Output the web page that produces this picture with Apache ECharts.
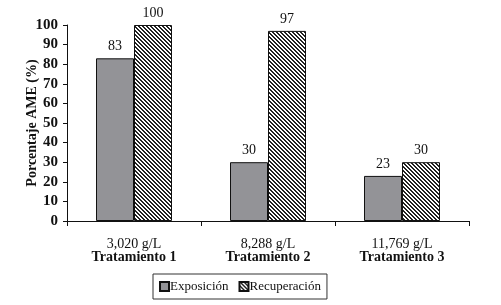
<!DOCTYPE html>
<html>
<head>
<meta charset="utf-8">
<script src="https://cdn.jsdelivr.net/npm/echarts@6/dist/echarts.min.js"></script>
<style>
html, body { margin: 0; padding: 0; background: #fff; }
#chart { width: 501px; height: 305px; }
</style>
</head>
<body>
<div id="chart"></div>
<script>
// datos
const concentraciones = ['3,020 g/L', '8,288 g/L', '11,769 g/L'];
const tratamientos = ['Tratamiento 1', 'Tratamiento 2', 'Tratamiento 3'];
const exposicion = [83, 30, 23];
const recuperacion = [100, 97, 30];

// patron rayado (diagonales)
const makeHatch = function () {
    const c = document.createElement('canvas');
    c.width = 4; c.height = 4;
    const ctx = c.getContext('2d');
    ctx.fillStyle = '#fff';
    ctx.fillRect(0, 0, 4, 4);
    ctx.fillStyle = '#222';
    for (let x = 0; x < 4; x++) {
        for (let y = 0; y < 4; y++) {
            const d = ((x - y) % 4 + 4) % 4;
            if (d === 0 || d === 1) ctx.fillRect(x, y, 1, 1);
        }
    }
    return c;
};
const hatch = { image: makeHatch(), repeat: 'repeat' };

const serif = '"Liberation Serif", "Times New Roman", serif';

const myChart = echarts.init(document.getElementById('chart'));
const option = {
    animation: false,
    textStyle: { fontFamily: serif, color: '#111' },
    grid: { left: 67, right: 32, top: 25, bottom: 84 },
    legend: {
        left: 153,
        top: 274,
        width: 176,
        height: 25,
        padding: [6, 6, 6, 6],
        borderColor: '#333',
        borderWidth: 1,
        itemWidth: 9,
        itemHeight: 9,
        itemGap: 10,
        icon: 'rect',
        textStyle: { fontFamily: serif, fontSize: 13, color: '#111', padding: [0, 0, 0, -4] },
        data: ['Exposición', 'Recuperación']
    },
    xAxis: {
        type: 'category',
        data: concentraciones.map((c, i) => c + '\n' + tratamientos[i]),
        axisLine: { lineStyle: { color: '#111', width: 1 } },
        axisTick: { show: true, length: 5, lineStyle: { color: '#111' } },
        axisLabel: {
            margin: 17,
            interval: 0,
            fontFamily: serif,
            fontSize: 14,
            color: '#111',
            lineHeight: 13,
            formatter: function (v) {
                const p = v.split('\n');
                return '{a|' + p[0] + '}\n{b|' + p[1] + '}';
            },
            rich: {
                a: { fontFamily: serif, fontSize: 14, color: '#111', lineHeight: 13 },
                b: { fontFamily: serif, fontSize: 14, fontWeight: 'bold', color: '#111', lineHeight: 13 }
            }
        }
    },
    yAxis: {
        type: 'value',
        min: 0,
        max: 100,
        interval: 10,
        name: 'Porcentaje AME (%)',
        nameLocation: 'middle',
        nameGap: 28,
        nameMoveOverlap: false,
        nameTextStyle: { fontFamily: serif, fontSize: 14, fontWeight: 'bold', color: '#111' },
        axisLine: { show: true, lineStyle: { color: '#111', width: 1 } },
        axisTick: { show: true, length: 4, lineStyle: { color: '#111' } },
        axisLabel: { fontFamily: serif, fontSize: 15, fontWeight: 'bold', color: '#111', margin: 9 },
        splitLine: { show: false }
    },
    series: [
        {
            name: 'Exposición',
            type: 'bar',
            data: exposicion,
            barWidth: 38,
            barGap: 0,
            itemStyle: { color: '#939397', borderColor: '#111', borderWidth: 1 },
            label: { show: true, position: 'top', distance: 5, fontFamily: serif, fontSize: 14, color: '#111' }
        },
        {
            name: 'Recuperación',
            type: 'bar',
            data: recuperacion,
            barWidth: 38,
            barGap: 0,
            itemStyle: { color: hatch, borderColor: '#111', borderWidth: 1 },
            label: { show: true, position: 'top', distance: 5, fontFamily: serif, fontSize: 14, color: '#111' }
        }
    ]
};
myChart.setOption(option);
</script>
</body>
</html>
